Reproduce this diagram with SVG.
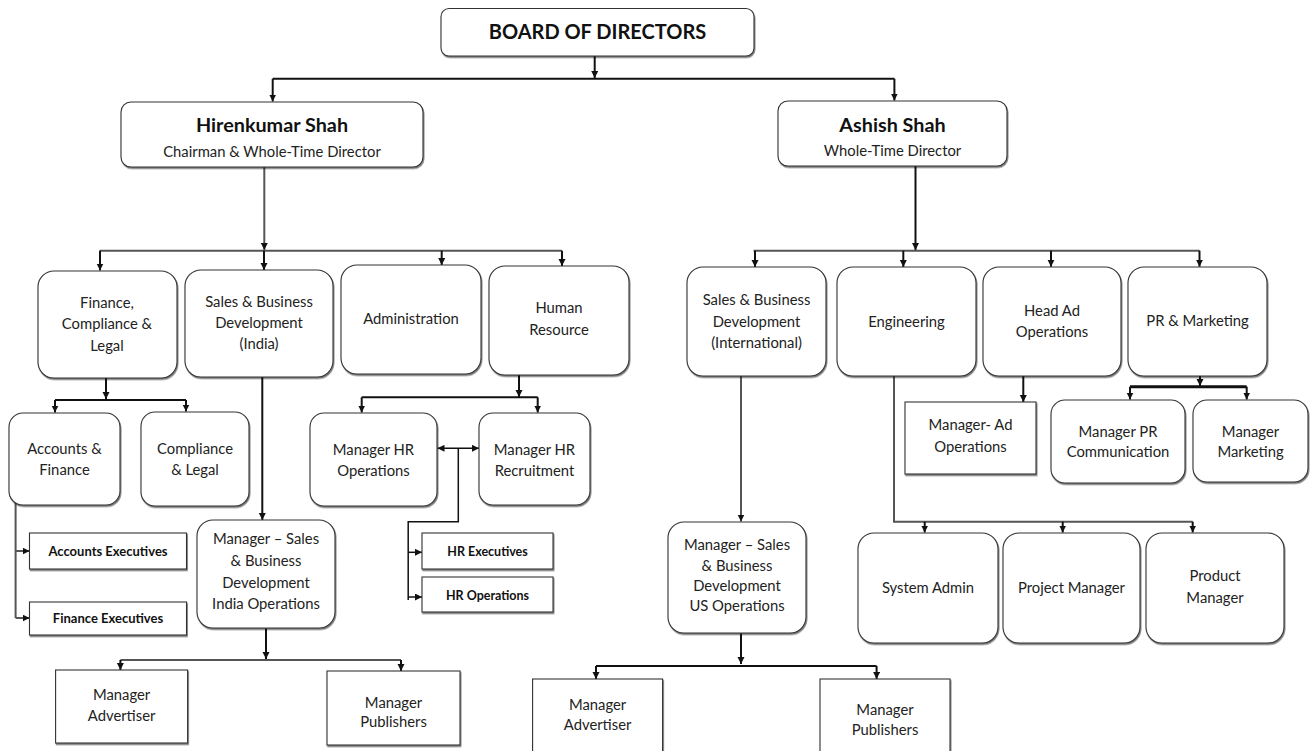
<svg xmlns="http://www.w3.org/2000/svg" width="1313" height="751" viewBox="0 0 1313 751">
<defs>
<marker id="ah" markerUnits="userSpaceOnUse" markerWidth="8" markerHeight="8" refX="7" refY="3.5" orient="auto">
<path d="M0,0 L7,3.5 L0,7 z" fill="#111"/>
</marker>
<marker id="as" markerUnits="userSpaceOnUse" markerWidth="8" markerHeight="8" refX="0" refY="3.5" orient="auto">
<path d="M7,0 L0,3.5 L7,7 z" fill="#111"/>
</marker>
<filter id="sh" x="-5%" y="-5%" width="115%" height="115%">
<feDropShadow dx="0.8" dy="1.5" stdDeviation="0.4" flood-color="#000" flood-opacity="0.55"/>
</filter>
</defs>
<style>
.bx{fill:#fff;stroke:#333;stroke-width:1.1;filter:url(#sh)}
.t{font-family:Lato,"Open Sans","Liberation Sans",sans-serif;font-size:14.8px;fill:#222;text-anchor:middle}
.tb{font-family:Lato,"Open Sans","Liberation Sans",sans-serif;font-weight:bold;fill:#111;text-anchor:middle}
.c{fill:none;stroke:#111;stroke-width:2}
.g{fill:none;stroke:#555;stroke-width:2}
.a{marker-end:url(#ah)}
</style>
<rect width="1313" height="751" fill="#fff"/>
<g id="connectors">
<path class="c a" d="M594.7,56 V78"/>
<path class="c" d="M272.7,78.7 H894.4"/>
<path class="c a" d="M272.7,78.7 V101.5"/>
<path class="c a" d="M894.4,78.7 V100.5"/>
<path class="g a" d="M264.3,167 V250"/>
<path class="g" d="M99.7,250.7 H562"/>
<path class="c a" d="M100,250.7 V270.5"/>
<path class="c a" d="M264,250.7 V270"/>
<path class="c a" d="M441.7,250.7 V265"/>
<path class="c a" d="M562,250.7 V266"/>
<path class="c a" d="M915.5,166 V250"/>
<path class="g" d="M753.6,250.7 H1199.7"/>
<path class="c a" d="M755,250.7 V267"/>
<path class="c a" d="M903.3,250.7 V267"/>
<path class="c a" d="M1051,250.7 V266.7"/>
<path class="c a" d="M1199.5,250.7 V266.7"/>
<path class="c a" d="M106,378 V399"/>
<path class="c" d="M55,400 H186"/>
<path class="c a" d="M55,400 V412.5"/>
<path class="c a" d="M186,400 V411.5"/>
<path class="c a" d="M262.3,376.7 V520"/>
<path class="c a" d="M519,375 V397"/>
<path class="c" d="M361.7,397.3 H537.7"/>
<path class="c a" d="M361.7,397.3 V412.5"/>
<path class="c a" d="M537.7,397.3 V412.5"/>
<path class="c" style="stroke-width:1.5;marker-start:url(#as);marker-end:url(#ah)" d="M437.5,448.3 H479"/>
<path class="c" style="stroke-width:1.5" d="M458.3,448.3 V521.7 H408.2 V600"/>
<path class="c a" style="stroke-width:1.5" d="M408.2,552.3 H422"/>
<path class="c a" style="stroke-width:1.5" d="M408.2,597 H422"/>
<path class="g" d="M15.6,500 V618"/>
<path class="g a" d="M15.6,551 H29.5"/>
<path class="g a" d="M15.6,618 H29.5"/>
<path class="c a" d="M266,628.5 V659"/>
<path class="g" d="M120.4,660 H401"/>
<path class="c a" d="M120.4,660 V670"/>
<path class="c a" d="M401,660 V671"/>
<path class="c a" d="M1023.3,376 V402"/>
<path class="c a" d="M1200,376 V386"/>
<path class="c" style="stroke-width:3" d="M1130,386.7 H1246.7"/>
<path class="c a" d="M1130,386.7 V399.5"/>
<path class="c a" d="M1246.7,386.7 V399.5"/>
<path class="g a" d="M741,376 V521.5"/>
<path class="c a" d="M741,633.5 V664"/>
<path class="c" d="M596,666 H876.6"/>
<path class="c a" d="M596,666 V679"/>
<path class="c a" d="M876.6,666 V679"/>
<path class="g" d="M894,376 V521.7 H1192.7"/>
<path class="c a" d="M924.7,521.7 V532.5"/>
<path class="c a" d="M1062.7,521.7 V532.5"/>
<path class="c a" d="M1192.7,521.7 V532.5"/>
</g>
<g id="board"><rect class="bx" x="441" y="8.5" width="313" height="47.5" rx="8"/><text class="tb" x="597.5" y="39" font-size="20">BOARD OF DIRECTORS</text></g>
<g id="hiren"><rect class="bx" x="121" y="102" width="302" height="65" rx="10"/><text class="tb" x="272" y="132" font-size="19.8">Hirenkumar Shah</text><text class="t" x="272" y="156.5" font-size="16">Chairman &amp; Whole-Time Director</text></g>
<g id="ashish"><rect class="bx" x="778" y="101" width="229" height="65" rx="10"/><text class="tb" x="892.5" y="131.5" font-size="19.8">Ashish Shah</text><text class="t" x="892.5" y="155.5" font-size="16">Whole-Time Director</text></g>
<g id="finance"><rect class="bx" x="38" y="271" width="139" height="107" rx="16"/><text class="t" x="107" y="308">Finance,</text><text class="t" x="107" y="329">Compliance &amp;</text><text class="t" x="107" y="350.7">Legal</text></g>
<g id="sales-india"><rect class="bx" x="185" y="270" width="148" height="107" rx="16"/><text class="t" x="259" y="306.7">Sales &amp; Business</text><text class="t" x="259" y="328">Development</text><text class="t" x="259" y="349">(India)</text></g>
<g id="admin"><rect class="bx" x="341" y="265" width="140" height="109" rx="16"/><text class="t" x="411" y="324" font-size="16">Administration</text></g>
<g id="hr"><rect class="bx" x="489" y="266" width="140" height="109" rx="16"/><text class="t" x="559" y="313.3">Human</text><text class="t" x="559" y="335">Resource</text></g>
<g id="sales-intl"><rect class="bx" x="687" y="267" width="139" height="109" rx="16"/><text class="t" x="756.5" y="305" font-size="14">Sales &amp; Business</text><text class="t" x="756.5" y="327.3" font-size="15.5">Development</text><text class="t" x="756.5" y="348.3" font-size="15.5">(International)</text></g>
<g id="engineering"><rect class="bx" x="837" y="267" width="139" height="109" rx="16"/><text class="t" x="906.5" y="326.7" font-size="16">Engineering</text></g>
<g id="head-ad"><rect class="bx" x="983" y="267" width="138" height="109" rx="16"/><text class="t" x="1052" y="316">Head Ad</text><text class="t" x="1052" y="337.3">Operations</text></g>
<g id="pr-marketing"><rect class="bx" x="1128" y="267" width="139" height="109" rx="16"/><text class="t" x="1197.5" y="326" font-size="15.6">PR &amp; Marketing</text></g>
<g id="accounts-finance"><rect class="bx" x="9" y="413" width="111" height="92" rx="14"/><text class="t" x="64.5" y="454">Accounts &amp;</text><text class="t" x="64.5" y="475">Finance</text></g>
<g id="compliance-legal"><rect class="bx" x="141" y="412" width="108" height="94" rx="14"/><text class="t" x="195" y="454">Compliance</text><text class="t" x="195" y="475">&amp; Legal</text></g>
<g id="mgr-hr-ops"><rect class="bx" x="310" y="413" width="127" height="93" rx="14"/><text class="t" x="373.5" y="455">Manager HR</text><text class="t" x="373.5" y="476">Operations</text></g>
<g id="mgr-hr-recruit"><rect class="bx" x="479" y="413" width="111" height="92" rx="14"/><text class="t" x="534.5" y="455">Manager HR</text><text class="t" x="534.5" y="476">Recruitment</text></g>
<g id="mgr-ad-ops"><rect class="bx" x="905" y="402" width="131" height="72"/><text class="t" x="970.5" y="430" font-size="13">Manager- Ad</text><text class="t" x="970.5" y="451.7" font-size="13">Operations</text></g>
<g id="mgr-pr-comm"><rect class="bx" x="1051" y="400" width="134" height="83" rx="14"/><text class="t" x="1118" y="436.7" font-size="13.5">Manager PR</text><text class="t" x="1118" y="456.7" font-size="13.5">Communication</text></g>
<g id="mgr-marketing"><rect class="bx" x="1193" y="400" width="115" height="82" rx="14"/><text class="t" x="1250.5" y="436.7" font-size="13.5">Manager</text><text class="t" x="1250.5" y="456.7" font-size="13.5">Marketing</text></g>
<g id="accounts-exec"><rect class="bx" x="29.5" y="533" width="157" height="36"/><text class="tb" x="108" y="555.5" font-size="13">Accounts Executives</text></g>
<g id="finance-exec"><rect class="bx" x="29.5" y="602" width="157" height="33"/><text class="tb" x="108" y="623" font-size="13">Finance Executives</text></g>
<g id="hr-exec"><rect class="bx" x="422" y="533" width="131" height="36"/><text class="tb" x="487.5" y="555.5" font-size="12.5">HR Executives</text></g>
<g id="hr-operations"><rect class="bx" x="422" y="577" width="131" height="35"/><text class="tb" x="487.5" y="599.5" font-size="12.5">HR Operations</text></g>
<g id="mgr-sales-india"><rect class="bx" x="197" y="520" width="138" height="108" rx="16"/><text class="t" x="266" y="544.3">Manager – Sales</text><text class="t" x="266" y="566">&amp; Business</text><text class="t" x="266" y="587.7">Development</text><text class="t" x="266" y="609.3">India Operations</text></g>
<g id="mgr-sales-us"><rect class="bx" x="668" y="522" width="138" height="111" rx="16"/><text class="t" x="737" y="550">Manager – Sales</text><text class="t" x="737" y="570.5">&amp; Business</text><text class="t" x="737" y="590.7">Development</text><text class="t" x="737" y="610.7">US Operations</text></g>
<g id="system-admin"><rect class="bx" x="858" y="533" width="140" height="110" rx="16"/><text class="t" x="928" y="592.7" font-size="15.2">System Admin</text></g>
<g id="project-manager"><rect class="bx" x="1003" y="533" width="137" height="110" rx="16"/><text class="t" x="1071.5" y="592.7" font-size="15.2">Project Manager</text></g>
<g id="product-manager"><rect class="bx" x="1146" y="533" width="138" height="110" rx="16"/><text class="t" x="1215" y="580.7" font-size="15.2">Product</text><text class="t" x="1215" y="602.7" font-size="15.2">Manager</text></g>
<g id="mgr-adv-india"><rect class="bx" x="55.6" y="670" width="132" height="73"/><text class="t" x="121.6" y="700" font-size="13">Manager</text><text class="t" x="121.6" y="721" font-size="13">Advertiser</text></g>
<g id="mgr-pub-india"><rect class="bx" x="327" y="671" width="133" height="74"/><text class="t" x="393.5" y="708" font-size="13">Manager</text><text class="t" x="393.5" y="727.3" font-size="13">Publishers</text></g>
<g id="mgr-adv-us"><rect class="bx" x="532.6" y="679" width="130" height="80"/><text class="t" x="597.6" y="710" font-size="13">Manager</text><text class="t" x="597.6" y="730" font-size="13">Advertiser</text></g>
<g id="mgr-pub-us"><rect class="bx" x="820" y="679" width="130" height="80"/><text class="t" x="885" y="715" font-size="13">Manager</text><text class="t" x="885" y="735" font-size="13">Publishers</text></g>
</svg>
